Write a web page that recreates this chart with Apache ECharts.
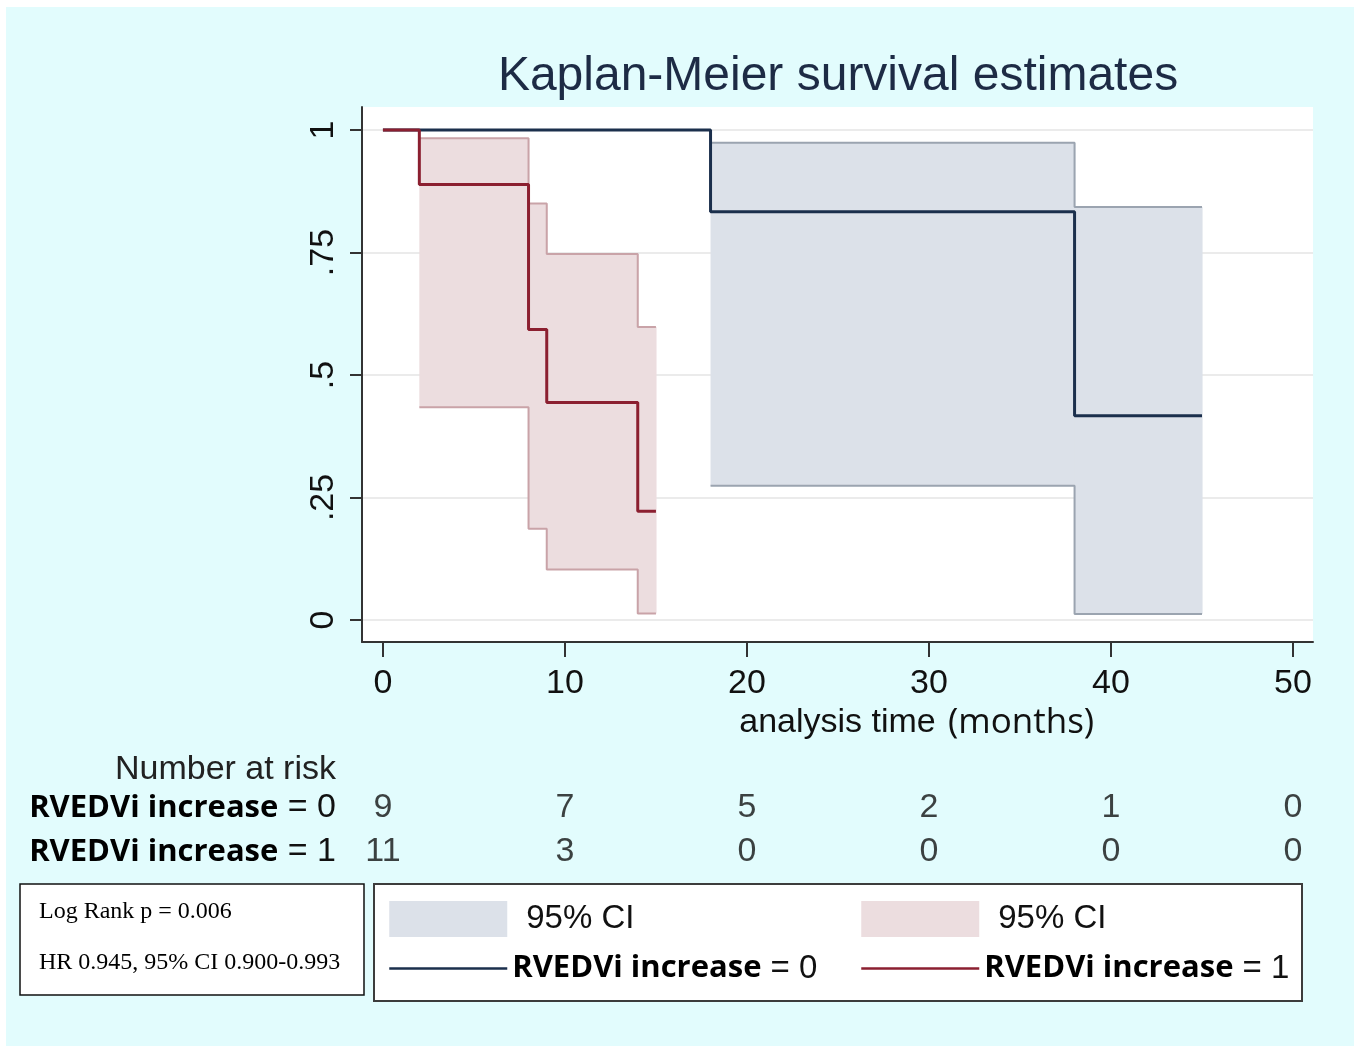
<!DOCTYPE html>
<html><head><meta charset="utf-8">
<script src="https://cdn.jsdelivr.net/npm/echarts@6/dist/echarts.min.js"></script>
<style>html,body{margin:0;padding:0;background:#fff}#c{width:1354px;height:1046px}</style>
</head><body><div id="c"></div>
<script>
// ---- data ----
const km0Time = [0, 18, 38, 45];
const km0Surv = [1, 0.833, 0.417, 0.417];
const km1Time = [0, 2, 8, 9, 14, 15];
const km1Surv = [1, 0.889, 0.593, 0.444, 0.222, 0.222];
const ci0Time = [18, 38, 45];
const ci0Upper = [0.974, 0.843, 0.843];
const ci0Lower = [0.274, 0.012, 0.012];
const ci1Time = [2, 8, 9, 14, 15];
const ci1Upper = [0.983, 0.850, 0.747, 0.598, 0.598];
const ci1Lower = [0.434, 0.186, 0.103, 0.013, 0.013];
const xTicks = [0, 10, 20, 30, 40, 50];
const yTicks = [0, 0.25, 0.5, 0.75, 1];
const yTickLabels = ['0', '.25', '.5', '.75', '1'];
const riskTimes = [0, 10, 20, 30, 40, 50];
const risk0 = [9, 7, 5, 2, 1, 0];
const risk1 = [11, 3, 0, 0, 0, 0];
const groupLabels = ['RVEDVi increase = 0', 'RVEDVi increase = 1'];
const titleText = 'Kaplan-Meier survival estimates';
const xName = 'analysis time';
const xUnit = '(months)';
const riskTitle = 'Number at risk';
const ciLabel = '95% CI';
const statsLines = ['Log Rank p = 0.006', 'HR 0.945, 95% CI 0.900-0.993'];

// ---- styles ----
const C_BLUE = '#1b2f4c', C_RED = '#8b1f30';
const F_BLUE = '#dce1e9', F_RED = '#ecdddf';
const E_BLUE = '#9ba4b0', E_RED = '#c9a3a8';
const SANS = '"Liberation Sans", Arial, sans-serif';
const BOLD = '"Open Sans", "Noto Sans", sans-serif';

const zip = (a, b) => a.map((v, i) => [v, b[i]]);
const intervals = (t, lo, up) => t.slice(0, -1).map((v, i) => [v, t[i + 1], lo[i], up[i]]);
function ciRender(fill) {
  return function (params, api) {
    const p1 = api.coord([api.value(0), api.value(3)]);
    const p2 = api.coord([api.value(1), api.value(2)]);
    return { type: 'rect', shape: { x: p1[0], y: p1[1], width: p2[0] - p1[0] + 0.6, height: p2[1] - p1[1] }, style: { fill: fill } };
  };
}
function splitLabel(s) {
  const k = s.lastIndexOf(' = ');
  return '{b|' + s.slice(0, k) + '}{n| = ' + s.slice(k + 3) + '}';
}

const chart = echarts.init(document.getElementById('c'), null, { renderer: 'canvas' });
const legendText = {
  color: '#111',
  rich: {
    ci: { fontFamily: SANS, fontSize: 33, color: '#111', padding: [0, 0, 0, 14] },
    b: { fontFamily: BOLD, fontWeight: 'bold', fontSize: 31, color: '#000' },
    n: { fontFamily: SANS, fontSize: 33, color: '#111' }
  }
};
const legendFmt = function (name) {
  if (name === 'ci0' || name === 'ci1') return '{ci|' + ciLabel + '}';
  return splitLabel(name === 'g0' ? groupLabels[0] : groupLabels[1]);
};
const legendBase = { orient: 'vertical', top: 901, padding: 0, itemWidth: 118, itemHeight: 36, itemGap: 15, textStyle: legendText, formatter: legendFmt, selectedMode: false };

const option = {
  backgroundColor: '#e2fcfd',
  animation: false,
  title: { text: titleText, left: 838, top: 53, textAlign: 'center', padding: 0,
    textStyle: { fontFamily: SANS, fontSize: 48, fontWeight: 'normal', color: '#1d2b45' } },
  grid: [
    { left: 362, top: 107, width: 951, height: 535, show: true, backgroundColor: '#ffffff', borderWidth: 0 },
    { left: 362, top: 786, width: 951, height: 88, show: false }
  ],
  xAxis: [
    { type: 'value', gridIndex: 0, min: -1.15, max: 51.1,
      name: xName, nameLocation: 'middle', nameGap: 57,
      nameTextStyle: { fontFamily: SANS, fontSize: 34, color: '#111' },
      axisLine: { show: true, onZero: false, lineStyle: { color: '#333', width: 2 } },
      axisTick: { show: true, customValues: xTicks, length: 15, lineStyle: { color: '#333', width: 2 } },
      axisLabel: { customValues: xTicks, margin: 25, fontFamily: SANS, fontSize: 34, color: '#111' },
      splitLine: { show: false } },
    { type: 'value', gridIndex: 1, min: -1.15, max: 51.1, show: false }
  ],
  yAxis: [
    { type: 'value', gridIndex: 0, min: -0.045, max: 1.047,
      axisLine: { show: true, onZero: false, lineStyle: { color: '#333', width: 2 } },
      axisTick: { show: true, customValues: yTicks, length: 12, lineStyle: { color: '#333', width: 2 } },
      axisLabel: { customValues: yTicks, rotate: 90, margin: 21, fontFamily: SANS, fontSize: 34, color: '#111',
        formatter: v => yTickLabels[yTicks.findIndex(t => Math.abs(t - v) < 1e-6)] },
      splitLine: { show: true, lineStyle: { color: '#ebebeb', width: 2 } } },
    { type: 'category', gridIndex: 1, inverse: true, data: groupLabels,
      axisLine: { show: false }, axisTick: { show: false }, splitLine: { show: false },
      axisLabel: { margin: 26, formatter: splitLabel,
        rich: {
          b: { fontFamily: BOLD, fontWeight: 'bold', fontSize: 31, color: '#000' },
          n: { fontFamily: SANS, fontSize: 34, color: '#111' }
        } } }
  ],
  legend: [
    Object.assign({ left: 388, data: [
      { name: 'ci0', icon: 'rect', itemStyle: { color: F_BLUE } },
      { name: 'g0', itemStyle: { opacity: 0 }, lineStyle: { color: C_BLUE, width: 2.5, opacity: 1 } }] }, legendBase),
    Object.assign({ left: 860, data: [
      { name: 'ci1', icon: 'rect', itemStyle: { color: F_RED } },
      { name: 'g1', itemStyle: { opacity: 0 }, lineStyle: { color: C_RED, width: 2.5, opacity: 1 } }] }, legendBase)
  ],
  graphic: [
    { type: 'rect', left: 0, top: 0, shape: { width: 1354, height: 7 }, style: { fill: '#fff' }, silent: true },
    { type: 'rect', left: 0, top: 0, shape: { width: 6, height: 1046 }, style: { fill: '#fff' }, silent: true },
    { type: 'text', x: 336, y: 770, silent: true,
      style: { text: riskTitle, fill: '#222', font: '34px ' + SANS, textAlign: 'right', textVerticalAlign: 'middle', align: 'right', verticalAlign: 'middle' } },
    { type: 'text', x: 948, y: 723, silent: true,
      style: { text: xUnit, fill: '#111', font: '35px ' + BOLD, textAlign: 'left', textVerticalAlign: 'middle', align: 'left', verticalAlign: 'middle' } },
    { type: 'rect', z: 1, silent: true, shape: { x: 20, y: 884, width: 344, height: 111 }, style: { fill: '#fff', stroke: '#111', lineWidth: 1.5 } },
    { type: 'text', z: 2, x: 39, y: 912, silent: true,
      style: { text: statsLines[0], fill: '#000', font: '24px "Liberation Serif", "Times New Roman", serif', textVerticalAlign: 'middle', verticalAlign: 'middle' } },
    { type: 'text', z: 2, x: 39, y: 963, silent: true,
      style: { text: statsLines[1], fill: '#000', font: '24px "Liberation Serif", "Times New Roman", serif', textVerticalAlign: 'middle', verticalAlign: 'middle' } },
    { type: 'rect', z: 1, silent: true, shape: { x: 374, y: 884, width: 928, height: 117 }, style: { fill: '#fff', stroke: '#3c3c3c', lineWidth: 2 } }
  ],
  series: [
    { name: 'ci0', type: 'custom', xAxisIndex: 0, yAxisIndex: 0, z: 1, renderItem: ciRender(F_BLUE),
      encode: { x: [0, 1], y: [2, 3] }, itemStyle: { color: F_BLUE }, data: intervals(ci0Time, ci0Lower, ci0Upper) },
    { name: 'ci1', type: 'custom', xAxisIndex: 0, yAxisIndex: 0, z: 1, renderItem: ciRender(F_RED),
      encode: { x: [0, 1], y: [2, 3] }, itemStyle: { color: F_RED }, data: intervals(ci1Time, ci1Lower, ci1Upper) },
    { name: 'ci0u', type: 'line', step: 'end', symbol: 'none', z: 2, lineStyle: { color: E_BLUE, width: 2 }, data: zip(ci0Time, ci0Upper) },
    { name: 'ci0l', type: 'line', step: 'end', symbol: 'none', z: 2, lineStyle: { color: E_BLUE, width: 2 }, data: zip(ci0Time, ci0Lower) },
    { name: 'ci1u', type: 'line', step: 'end', symbol: 'none', z: 2, lineStyle: { color: E_RED, width: 2 }, data: zip(ci1Time, ci1Upper) },
    { name: 'ci1l', type: 'line', step: 'end', symbol: 'none', z: 2, lineStyle: { color: E_RED, width: 2 }, data: zip(ci1Time, ci1Lower) },
    { name: 'g0', type: 'line', step: 'end', symbol: 'none', z: 3, color: C_BLUE, lineStyle: { color: C_BLUE, width: 3 }, data: zip(km0Time, km0Surv) },
    { name: 'g1', type: 'line', step: 'end', symbol: 'none', z: 4, color: C_RED, lineStyle: { color: C_RED, width: 3 }, data: zip(km1Time, km1Surv) },
    { name: 'risk', type: 'scatter', xAxisIndex: 1, yAxisIndex: 1, symbolSize: 1, itemStyle: { color: 'rgba(0,0,0,0)' },
      label: { show: true, position: 'inside', formatter: p => String(p.value[2]), fontFamily: SANS, fontSize: 34, color: '#111' },
      data: riskTimes.map((t, i) => [t, groupLabels[0], risk0[i]]).concat(riskTimes.map((t, i) => [t, groupLabels[1], risk1[i]])) }
  ]
};
chart.setOption(option);
</script></body></html>
